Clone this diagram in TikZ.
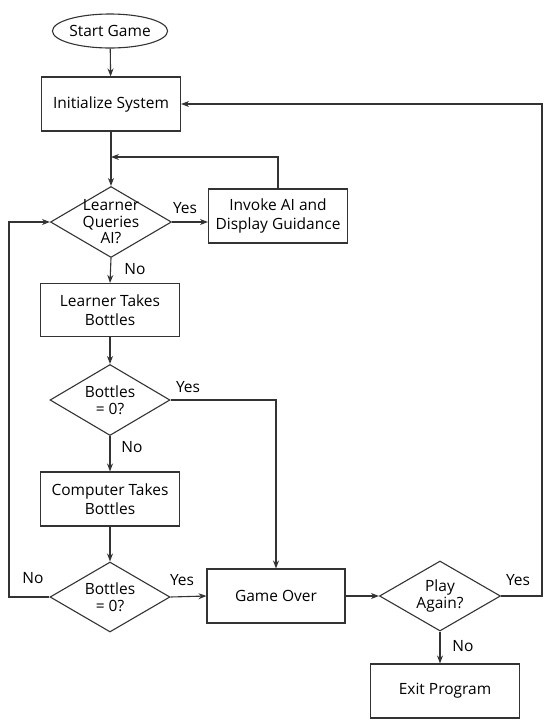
\documentclass[tikz,border=0pt]{standalone}
\usepackage{fontspec}
\setmainfont{Open Sans}
\usetikzlibrary{shapes.geometric,arrows.meta,calc}
\tikzset{
  base/.style={draw=black!80, line width=1.1pt, font=\fontsize{15.5}{19.5}\selectfont, align=center, inner sep=0pt},
  procbox/.style={base, rectangle, minimum width=139pt, minimum height=54pt},
  termbox/.style={base, ellipse, minimum width=106pt, minimum height=34pt},
  decbox/.style={base, diamond, minimum width=121pt, minimum height=71pt},
  dectext/.style={font=\fontsize{15.5}{16.5}\selectfont, align=center, inner sep=0pt},
  conn/.style={draw=black!80, line width=1.1pt, -{Stealth[length=8pt,width=6pt]}},
  plain/.style={draw=black!80, line width=1.1pt},
  lbl/.style={font=\fontsize{15.5}{18}\selectfont, inner sep=0pt}
}
\begin{document}
\begin{tikzpicture}[x=1pt,y=-1pt]
\useasboundingbox (0,0) rectangle (550,724);
% nodes
\node[termbox] (start) at (110,31) {Start Game};
\node[procbox] (init) at (111,104) {Initialize System};
\node[decbox, label={[dectext,name=qt]center:Learner\\Queries\\AI?}] (q) at (111,222) {};
\node[procbox] (invoke) at (278,216) {Invoke AI and\\Display Guidance};
\node[procbox, minimum height=53pt] (learner) at (110,310) {Learner Takes\\Bottles};
\node[decbox, minimum width=120pt, label={[dectext,name=b1t]center:Bottles\\= 0?}] (b1) at (110,400) {};
\node[procbox] (comp) at (110,499) {Computer Takes\\Bottles};
\node[decbox, minimum width=120pt, minimum height=70pt, label={[dectext,name=b2t]center:Bottles\\= 0?}] (b2) at (110,597) {};
\node[procbox, minimum width=138pt] (over) at (276,596) {Game Over};
\node[decbox, minimum height=70pt, label={[dectext,name=pt]center:Play\\Again?}] (play) at (440,596) {};
\node[procbox, minimum width=149pt] (exit) at (445,691) {Exit Program};
% helper coordinates
\coordinate (m) at (111,157);
\coordinate (lft) at (9,597);
\coordinate (rt) at (542,104);
% connectors
\draw[conn] (start) -- (init);
\draw[plain] (init.south) -- (m);
\draw[conn] (m) -- (q.north);
\draw[conn] (invoke.north) |- (m);
\draw[conn] (q.east) -- (q.east -| invoke.west);
\draw[conn] (q.south) -- (learner.north);
\draw[conn] (learner) -- (b1);
\draw[conn] (b1.east) -| (over.north);
\draw[conn] (b1.south) -- (comp.north);
\draw[conn] (comp) -- (b2);
\draw[conn] (b2.east) -- (over.west);
\draw[conn] (b2.west) -- (lft) |- (q.west);
\draw[conn] (over.east) -- (play.west);
\draw[conn] (play.east) -| (rt) -- (init.east);
\draw[conn] (play.south) -- (play.south |- exit.north);
% labels
\node[lbl] (l1) at (185,208) {Yes};
\node[lbl] (l2) at (135,269) {No};
\node[lbl] (l3) at (188,387) {Yes};
\node[lbl] (l4) at (132,447) {No};
\node[lbl] (l5) at (33,578) {No};
\node[lbl] (l6) at (182,580) {Yes};
\node[lbl] (l7) at (518,580) {Yes};
\node[lbl] (l8) at (463,646) {No};
\end{tikzpicture}
\end{document}
